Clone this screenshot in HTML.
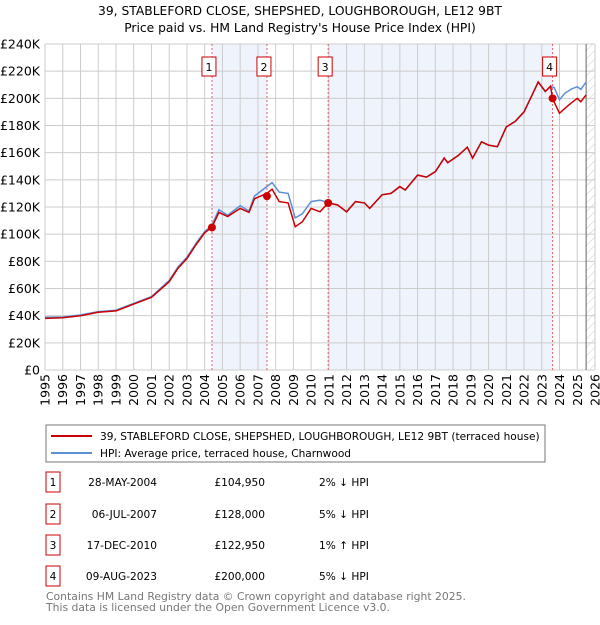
<!DOCTYPE html>
<html><head><meta charset="utf-8"><style>
body{margin:0;background:#fff;font-family:"Liberation Sans","DejaVu Sans",sans-serif;}
svg text{font-family:"DejaVu Sans","Liberation Sans",sans-serif;}
</style></head><body>
<svg id="c" width="600" height="620" xmlns="http://www.w3.org/2000/svg">
<defs><pattern id="hatch" width="6" height="6" patternUnits="userSpaceOnUse" patternTransform="rotate(45)"><line x1="0" y1="0" x2="0" y2="6" stroke="#ccc" stroke-width="1"/></pattern></defs>
<text x="300" y="15" text-anchor="middle" font-size="12.3">39, STABLEFORD CLOSE, SHEPSHED, LOUGHBOROUGH, LE12 9BT</text>
<text x="300" y="32" text-anchor="middle" font-size="12.3">Price paid vs. HM Land Registry's House Price Index (HPI)</text>
<g id="plot"></g>
<rect x="46" y="425" width="499" height="37" fill="#fff" stroke="#777"/>
<line x1="51" y1="436" x2="92" y2="436" stroke="#cc0000" stroke-width="2"/>
<text x="100" y="440" font-size="10.6">39, STABLEFORD CLOSE, SHEPSHED, LOUGHBOROUGH, LE12 9BT (terraced house)</text>
<line x1="51" y1="453" x2="92" y2="453" stroke="#5b8fd6" stroke-width="2"/>
<text x="100" y="457" font-size="10.6">HPI: Average price, terraced house, Charnwood</text>
<g id="table" font-size="10.6"></g>
<text x="46" y="600" font-size="10.8" fill="#777">Contains HM Land Registry data © Crown copyright and database right 2025.</text>
<text x="46" y="611" font-size="10.8" fill="#777">This data is licensed under the Open Government Licence v3.0.</text>
</svg>
<script>
const hpiYears=[1995,1996,1997,1998,1999,2000,2001,2002,2002.5,2003,2003.5,2004,2004.4,2004.8,2005.3,2006,2006.5,2006.8,2007.5,2007.8,2008.2,2008.7,2009.1,2009.5,2010,2010.5,2011,2011.5,2012,2012.5,2013,2013.3,2014,2014.5,2015,2015.3,2016,2016.5,2017,2017.5,2017.7,2018.3,2018.8,2019.1,2019.6,2020,2020.5,2021,2021.5,2022,2022.5,2022.8,2023.2,2023.5,2023.7,2024,2024.3,2024.7,2025,2025.2,2025.5];
const hpiValues=[38.8,39,40.5,43,44,49,54,66,76,83,93,102,106.5,118,114,121,117,128,135,138,131,130,112,115,124,125,123,121.5,116.5,124,123,119,129,130,135,132.5,143.5,142,146,156,152.6,158,164,156,168,165.6,164.4,179,183,190,203.7,212,205,208.6,208,199,203.7,207,208.6,206.6,212];
const propYears=[1995,1996,1997,1998,1999,2000,2001,2002,2002.5,2003,2003.5,2004,2004.4,2004.8,2005.3,2006,2006.5,2006.8,2007.5,2007.8,2008.2,2008.7,2009.1,2009.5,2010,2010.5,2010.96,2011.5,2012,2012.5,2013,2013.3,2014,2014.5,2015,2015.3,2016,2016.5,2017,2017.5,2017.7,2018.3,2018.8,2019.1,2019.6,2020,2020.5,2021,2021.5,2022,2022.5,2022.8,2023.2,2023.5,2023.6,2024,2024.3,2024.7,2025,2025.2,2025.5];
const propValues=[38,38.5,40,42.5,43.5,48.5,53.5,65,75,82,92,101,104.95,116,113,119,116,126,130,133,124,123,105.5,109,119,116.5,122.95,121.5,116.5,124,123,119,129,130,135,132.5,143.5,142,146,156,152.6,158,164,156,168,165.6,164.4,179,183,190,203.7,212,205,209,200,189,192.6,197,200,197.5,202.5];
const yTicks=[0,20,40,60,80,100,120,140,160,180,200,220,240];
const xTicks=[1995,1996,1997,1998,1999,2000,2001,2002,2003,2004,2005,2006,2007,2008,2009,2010,2011,2012,2013,2014,2015,2016,2017,2018,2019,2020,2021,2022,2023,2024,2025,2026];
const saleLabels=["1","2","3","4"];
const saleYears=[2004.41,2007.51,2010.96,2023.61];
const saleValues=[104.95,128,122.95,200];
const saleDates=["28-MAY-2004","06-JUL-2007","17-DEC-2010","09-AUG-2023"];
const salePrices=["£104,950","£128,000","£122,950","£200,000"];
const saleHpi=["2% ↓ HPI","5% ↓ HPI","1% ↑ HPI","5% ↓ HPI"];
const dataEnd=2025.5;

const L=45,R=595,T=44,B=370;
const X=y=>L+(y-1995)/(2026-1995)*(R-L);
const Y=v=>B-v/240*(B-T);
const NS="http://www.w3.org/2000/svg";
const plot=document.getElementById('plot');
function mk(tag,attrs,parent){const e=document.createElementNS(NS,tag);for(const k in attrs)e.setAttribute(k,attrs[k]);(parent||plot).appendChild(e);return e;}
for(let i=0;i<saleYears.length;i+=2){
  const r=mk('rect',{x:X(saleYears[i]),y:T,width:X(saleYears[i+1])-X(saleYears[i]),height:B-T,fill:'#eef3fc'});
  
  
}
const h=mk('rect',{x:X(dataEnd),y:T,width:R-X(dataEnd),height:B-T,fill:'url(#hatch)'});


yTicks.forEach(v=>{
  const g=mk('line',{x1:L,x2:R,y1:Y(v),y2:Y(v),stroke:'#ccc','stroke-width':1});
  
  
  const t=mk('text',{x:L-5,y:Y(v)+4.5,'text-anchor':'end','font-size':12.5});
  t.textContent=v===0?'£0':'£'+v+'K';
  
  
});
xTicks.forEach(yr=>{
  const g=mk('line',{x1:X(yr),x2:X(yr),y1:T,y2:B,stroke:'#ccc','stroke-width':1});
  
  
  const t=mk('text',{x:0,y:0,'text-anchor':'end','font-size':12.5,transform:`translate(${X(yr)+4.5},${B+4}) rotate(-90)`});
  t.textContent=yr;
  
  
});
const el=mk('line',{x1:X(dataEnd),x2:X(dataEnd),y1:T,y2:B,stroke:'#666','stroke-width':1});


saleYears.forEach((yr,i)=>{
  const l=mk('line',{x1:X(yr),x2:X(yr),y1:T,y2:B,stroke:'#e06060','stroke-width':1,'stroke-dasharray':'2,2'});
  
  
  const bx=mk('rect',{x:X(yr)-10,y:57,width:14,height:19,fill:'#fff',stroke:'#cc0000'});
  
  
  const t=mk('text',{x:X(yr)-3,y:71,'text-anchor':'middle','font-size':11});
  t.textContent=saleLabels[i];
  
  
});
const pts=(xs,vs)=>xs.map((x,i)=>X(x).toFixed(1)+','+Y(vs[i]).toFixed(1)).join(' ');
const hp=mk('polyline',{points:pts(hpiYears,hpiValues),fill:'none',stroke:'#5b8fd6','stroke-width':1.5});


const pp=mk('polyline',{points:pts(propYears,propValues),fill:'none',stroke:'#cc0000','stroke-width':1.5});


saleYears.forEach((yr,i)=>{
  const c=mk('circle',{cx:X(yr),cy:Y(saleValues[i]),r:4,fill:'#cc0000'});
  
  
});
const tb=document.getElementById('table');
const rowY=[482,514,545,576];
saleLabels.forEach((lab,i)=>{
  const y=rowY[i];
  const b=mk('rect',{x:46,y:y-10,width:14,height:20,fill:'#fff',stroke:'#cc0000'},tb);
  
  
  const t0=mk('text',{x:53,y:y+4,'text-anchor':'middle'},tb);t0.textContent=lab;
  
  
  const t1=mk('text',{x:157,y:y+4,'text-anchor':'end'},tb);t1.textContent=saleDates[i];
  
  
  const t2=mk('text',{x:265,y:y+4,'text-anchor':'end'},tb);t2.textContent=salePrices[i];
  
  
  const t3=mk('text',{x:319,y:y+4},tb);t3.textContent=saleHpi[i];
  
  
});
</script>
</body></html>
